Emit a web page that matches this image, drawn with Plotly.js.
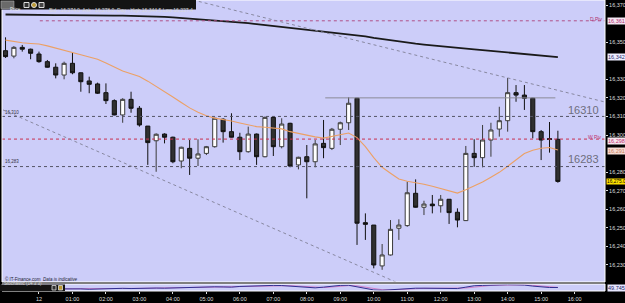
<!DOCTYPE html>
<html><head><meta charset="utf-8">
<script src="https://cdn.plot.ly/plotly-3.0.1.min.js"></script>
<style>html,body{margin:0;padding:0;background:#000;}#chart{width:625px;height:303px;}</style>
</head><body><div id="chart"></div>
<script>
// ---- data (15-minute bars, index 0 = 23:00) ----
const openP  = [16345.4,16342.5,16347.2,16346.2,16343.6,16339.5,16336.5,16332.3,16338.6,16333.5,16329.1,16327.5,16322.8,16318.5,16310.8,16319.2,16314.4,16304.8,16296.9,16300.5,16298.8,16286.0,16292.8,16287.5,16290.1,16293.7,16308.5,16301.8,16298.8,16291.0,16300.5,16288.3,16309.5,16293.7,16306.3,16283.9,16288.3,16285.6,16295.5,16292.8,16303.1,16306.6,16319.8,16252.8,16251.5,16229.5,16235.4,16249.8,16251.2,16268.6,16261.1,16262.8,16261.9,16265.4,16258.4,16253.9,16290.1,16287.8,16297.3,16303.2,16307.7,16322.8,16321.5,16319.8,16301.8,16298.1,16297.7];
const highP  = [16352.6,16347.9,16348.5,16346.5,16344.9,16340.4,16338.6,16339.5,16344.3,16333.7,16331.4,16328.2,16327.8,16319.2,16319.8,16323.3,16315.6,16304.8,16300.9,16300.9,16299.1,16293.7,16297.3,16297.7,16294.1,16309.3,16309.0,16311.7,16301.2,16304.5,16300.8,16309.9,16309.9,16309.0,16306.6,16288.3,16294.6,16297.3,16308.1,16303.8,16307.2,16320.3,16320.0,16257.8,16251.5,16241.3,16254.2,16254.6,16274.9,16276.1,16264.6,16267.7,16267.7,16265.5,16260.5,16294.1,16297.7,16305.4,16306.6,16315.2,16330.7,16326.9,16326.9,16320.0,16302.7,16307.0,16302.3];
const lowP   = [16341.5,16341.3,16344.9,16340.8,16338.9,16336.3,16330.5,16330.0,16332.7,16323.3,16322.5,16322.1,16316.7,16310.6,16306.6,16312.0,16304.5,16283.9,16280.2,16295.5,16284.8,16282.1,16278.5,16283.3,16289.2,16293.2,16295.9,16298.7,16286.5,16290.5,16283.9,16288.0,16288.7,16292.8,16282.6,16281.5,16265.9,16282.6,16287.5,16291.9,16294.6,16302.7,16240.8,16243.5,16228.2,16227.4,16235.1,16243.5,16250.6,16260.9,16256.9,16257.8,16258.2,16252.1,16250.3,16253.7,16282.9,16282.6,16288.3,16299.1,16301.8,16317.9,16313.5,16298.2,16286.5,16290.5,16274.3];
const closeP = [16342.2,16347.2,16346.2,16344.0,16339.5,16336.5,16332.3,16338.6,16333.5,16328.7,16327.3,16322.5,16318.5,16310.8,16319.2,16314.4,16305.4,16295.9,16300.4,16298.8,16285.6,16293.4,16287.5,16289.8,16293.7,16309.0,16301.8,16298.8,16291.0,16300.5,16288.3,16309.5,16293.7,16305.9,16283.3,16288.0,16285.6,16295.2,16293.2,16303.1,16306.6,16317.1,16252.5,16251.9,16230.0,16235.4,16249.2,16251.5,16268.9,16261.1,16262.8,16261.9,16265.4,16258.2,16254.2,16290.1,16287.8,16297.3,16302.7,16307.7,16322.8,16321.5,16319.8,16301.8,16297.3,16297.6,16275.0];
const ma20   = [16351.1,16350.3,16349.7,16349.3,16349.0,16348.0,16346.9,16345.7,16344.5,16343.2,16342.0,16340.8,16338.8,16336.5,16334.5,16333.0,16331.5,16329.0,16326.3,16323.5,16320.5,16317.5,16314.6,16312.3,16310.4,16309.1,16308.4,16307.5,16306.5,16305.5,16304.5,16304.2,16303.9,16303.3,16301.8,16300.8,16299.8,16299.0,16298.3,16299.1,16300.0,16301.1,16298.6,16293.7,16287.8,16282.6,16279.4,16276.3,16275.1,16274.4,16273.5,16272.4,16271.3,16270.0,16268.7,16270.5,16272.4,16274.7,16277.3,16279.9,16283.2,16286.6,16290.0,16291.8,16292.9,16293.3,16291.9];
const ma200  = [16364.9,16364.8,16364.8,16364.7,16364.7,16364.6,16364.6,16364.6,16364.5,16364.5,16364.4,16364.4,16364.3,16364.3,16364.3,16364.2,16364.1,16364.1,16363.9,16363.6,16363.3,16363.0,16362.7,16362.4,16362.0,16361.7,16361.3,16361.0,16360.6,16360.3,16359.7,16359.2,16358.7,16358.1,16357.6,16357.0,16356.6,16356.2,16355.7,16355.3,16354.9,16354.4,16353.8,16353.1,16352.3,16351.6,16350.9,16350.2,16349.7,16349.2,16348.7,16348.2,16347.7,16347.2,16346.8,16346.5,16346.1,16345.7,16345.3,16345.0,16344.6,16344.2,16343.7,16343.2,16342.8,16342.4,16341.9];
const stochK = [50,55,60,50,40,35,30,30,35,30,25,30,35,40,38,35,40,45,42,40,45,50,55,50,55,60,58,55,65,70,75,72,80,78,70,60,50,45,55,70,80,82,60,30,15,10,20,25,35,40,40,38,40,38,35,55,75,80,85,88,90,88,85,70,55,50,49.7];
const stochD = [52,53,55,55,50,42,35,32,32,32,30,28,30,35,38,38,38,40,42,42,42,45,50,52,53,55,58,58,59,63,70,72,76,77,76,70,60,52,50,57,68,77,74,57,35,18,15,18,27,33,38,39,39,39,38,43,55,70,80,84,88,89,88,81,70,58,52];
const hourTickIdx = [4,8,12,16,20,24,28,32,36,40,44,48,52,56,60,64,68];
const hourLabels  = ["12","01:00","02:00","03:00","04:00","05:00","06:00","07:00","08:00","09:00","10:00","11:00","12:00","13:00","14:00","15:00","16:00"];
const priceTicks  = [16370,16350,16330,16320,16310,16300,16280,16270,16260,16250,16240,16230];
const dPivot = 16361.5, wPivot = 16297.8, level1 = 16310, level2 = 16283, resistance = 16320;
const upperTrend = {i: [22.4, 71.6], p: [16372.7, 16317.8]};
const lowerTrend = {i: [-0.3, 46.65], p: [16313.5, 16220.8]};
const resistSpan = [38.2, 65.7];
const dPivStart = 4.1;
const stochLast = 49.745;

// ---- figure ----
const idx = openP.map((_, i) => i);
const W = 625, H = 303, ML = 2, MR = 20, MT = 0, MB = 12;
const PW = W - ML - MR, PH = H - MT - MB;
const px = x => (x - ML) / PW;          // pixel -> paper x
const py = y => 1 - (y - MT) / PH;      // pixel -> paper y
const fmt = v => v.toLocaleString('en-US');
const FONT = 'Liberation Sans, Arial, sans-serif';

const traces = [
  {type: 'candlestick', x: idx, open: openP, high: highP, low: lowP, close: closeP,
   xaxis: 'x', yaxis: 'y', whiskerwidth: 0,
   increasing: {fillcolor: '#ffffff', line: {color: '#3a3a3a', width: 1}},
   decreasing: {fillcolor: '#303030', line: {color: '#111111', width: 1}},
   hoverinfo: 'skip', showlegend: false},
  {type: 'scatter', mode: 'lines', x: idx, y: ma20, xaxis: 'x', yaxis: 'y',
   line: {color: '#eca064', width: 1.1}, hoverinfo: 'skip', showlegend: false},
  {type: 'scatter', mode: 'lines', x: idx, y: ma200, xaxis: 'x', yaxis: 'y',
   line: {color: '#1a1a1a', width: 1.8}, hoverinfo: 'skip', showlegend: false},
  {type: 'scatter', mode: 'lines', x: idx, y: stochD, xaxis: 'x', yaxis: 'y2',
   line: {color: '#d080c8', width: 1}, hoverinfo: 'skip', showlegend: false},
  {type: 'scatter', mode: 'lines', x: idx, y: stochK, xaxis: 'x', yaxis: 'y2',
   line: {color: '#303090', width: 1}, hoverinfo: 'skip', showlegend: false}
];

const shapes = [
  {type: 'line', xref: 'paper', yref: 'y', x0: 0, x1: 1, y0: level1, y1: level1, line: {color: '#555566', width: 1, dash: 'dot'}},
  {type: 'line', xref: 'paper', yref: 'y', x0: 0, x1: 1, y0: level2, y1: level2, line: {color: '#555566', width: 1, dash: 'dot'}},
  {type: 'line', xref: 'paper', yref: 'y', x0: 0, x1: 1, y0: wPivot, y1: wPivot, line: {color: '#c8304f', width: 1, dash: 'dot'}},
  {type: 'line', xref: 'x', yref: 'y', x0: dPivStart, x1: 71.6, y0: dPivot, y1: dPivot, line: {color: '#b05088', width: 1, dash: 'dot'}},
  {type: 'line', xref: 'x', yref: 'y', x0: resistSpan[0], x1: resistSpan[1], y0: resistance, y1: resistance, line: {color: '#8a8a96', width: 1}},
  {type: 'line', xref: 'x', yref: 'y', x0: upperTrend.i[0], x1: upperTrend.i[1], y0: upperTrend.p[0], y1: upperTrend.p[1], line: {color: '#8888a0', width: 1, dash: 'dot'}},
  {type: 'line', xref: 'x', yref: 'y', x0: lowerTrend.i[0], x1: lowerTrend.i[1], y0: lowerTrend.p[0], y1: lowerTrend.p[1], line: {color: '#8888a0', width: 1, dash: 'dot'}},
  // main plot border
  {type: 'rect', xref: 'paper', yref: 'paper', x0: 0, x1: 1, y0: py(282), y1: 1, line: {color: '#ffffff', width: 1}, fillcolor: 'rgba(0,0,0,0)'},
  // stochastic border
  {type: 'rect', xref: 'paper', yref: 'paper', x0: 0, x1: 1, y0: 0, y1: py(284), line: {color: '#ffffff', width: 1}, fillcolor: 'rgba(0,0,0,0)'},
  // top info bar
  {type: 'rect', xref: 'paper', yref: 'paper', x0: px(0), x1: px(196), y0: py(9.5), y1: py(0), line: {width: 0}, fillcolor: '#141414'},
  {type: 'rect', xref: 'paper', yref: 'paper', x0: px(1), x1: px(14), y0: py(8.5), y1: py(1), line: {color: '#bbbbbb', width: 0.5}, fillcolor: '#6a6a6a'},
  {type: 'rect', xref: 'paper', yref: 'paper', x0: px(24), x1: px(29), y0: py(7.5), y1: py(2.5), line: {color: '#dddddd', width: 1}, fillcolor: '#333'},
  {type: 'circle', xref: 'paper', yref: 'paper', x0: px(31.5), x1: px(36.5), y0: py(7.5), y1: py(2.5), line: {color: '#dddddd', width: 1}, fillcolor: '#bb9933'},
  {type: 'rect', xref: 'paper', yref: 'paper', x0: px(39), x1: px(44), y0: py(7.5), y1: py(2.5), line: {color: '#dddddd', width: 1}, fillcolor: '#444'},
  // stochastic label box
  {type: 'rect', xref: 'paper', yref: 'paper', x0: px(0), x1: px(65), y0: py(291), y1: py(284.5), line: {width: 0}, fillcolor: '#141414'},
  {type: 'rect', xref: 'paper', yref: 'paper', x0: px(52), x1: px(56), y0: py(290), y1: py(285.5), line: {color: '#dddddd', width: 0.8}, fillcolor: '#333'},
  {type: 'rect', xref: 'paper', yref: 'paper', x0: px(58.5), x1: px(62.5), y0: py(290), y1: py(285.5), line: {color: '#dddddd', width: 0.8}, fillcolor: '#bb9933'}
];

const ann = (text, x, y, opts) => Object.assign({text, x, y, showarrow: false,
  xref: 'paper', yref: 'y', font: {family: FONT, size: 5.5, color: '#dddddd'}}, opts || {});
const rightX = px(606.5);
const annotations = [
  ann(fmt(16361), rightX, dPivot, {xanchor: 'left', bgcolor: '#f4e6f2', borderpad: 0, font: {family: FONT, size: 5.5, color: '#b0306f'}}),
  ann(fmt(16342), rightX, ma200[ma200.length - 1], {xanchor: 'left', bgcolor: '#eeeeff', borderpad: 0, font: {family: FONT, size: 5.5, color: '#303070'}}),
  ann(fmt(16298), rightX, wPivot - 0.8, {xanchor: 'left', bgcolor: '#f6e6ee', borderpad: 0, font: {family: FONT, size: 5.5, color: '#c03070'}}),
  ann(fmt(16291), rightX, ma20[ma20.length - 1] - 0.5, {xanchor: 'left', bgcolor: '#f6dcd4', borderpad: 0, font: {family: FONT, size: 5.5, color: '#c88060'}}),
  ann('16,275.0', px(606), closeP[closeP.length - 1], {xanchor: 'left', bgcolor: '#ffe000', borderpad: 0, font: {family: FONT, size: 4.8, color: '#000'}}),
  ann(stochLast.toString(), rightX, stochLast, {yref: 'y2', xanchor: 'left', bgcolor: '#e6e6ff', borderpad: 0, font: {family: FONT, size: 5.5, color: '#202060'}}),
  ann('D Piv', px(604), dPivot + 1.2, {xanchor: 'right', font: {family: FONT, size: 5, color: '#b0306f'}}),
  ann('W Piv', px(604), wPivot + 1.2, {xanchor: 'right', font: {family: FONT, size: 5, color: '#c03070'}}),
  ann(String(level1), 69.1, level1 + 3.5, {xref: 'x', font: {family: FONT, size: 11, color: '#6e6e7e'}}),
  ann(String(level2), 69.1, level2 + 4.1, {xref: 'x', font: {family: FONT, size: 11, color: '#6e6e7e'}}),
  ann(fmt(level1), px(3), level1 + 2.2, {xanchor: 'left', font: {family: FONT, size: 4.5, color: '#333344'}}),
  ann(fmt(level2), px(3), level2 + 2.6, {xanchor: 'left', font: {family: FONT, size: 4.5, color: '#333344'}}),
  ann('© IT-Finance.com  <i>Data is indicative</i>', px(3), 16222.2, {xanchor: 'left', font: {family: FONT, size: 4.5, color: '#222233'}}),
  ann('Price', px(7.5), 0, {yref: 'paper', y: py(4.8), font: {family: FONT, size: 4.5, color: '#e8e8e8'}}),
  ann('Bid : 16,274.0  Ask : 16,278.0  Day : High 16,344.5 Low 16,227.4', px(47), 0, {yref: 'paper', y: py(4.8), xanchor: 'left', font: {family: FONT, size: 5, color: '#d8d8d8'}}),
  ann('Stochastic (14 3 3)', px(1.5), 0, {yref: 'paper', y: py(287.8), xanchor: 'left', font: {family: FONT, size: 4.5, color: '#d8d8d8'}})
];

const layout = {
  width: W, height: H,
  margin: {l: ML, r: MR, t: MT, b: MB, pad: 0},
  paper_bgcolor: '#000000', plot_bgcolor: '#cccdf9',
  showlegend: false, dragmode: false,
  xaxis: {anchor: 'y2', range: [-0.42, 71.63], rangeslider: {visible: false},
    tickvals: hourTickIdx, ticktext: hourLabels, tickfont: {family: FONT, size: 5.5, color: '#dddddd'},
    ticks: 'outside', ticklen: 2, tickcolor: '#dddddd', showgrid: false, zeroline: false, showline: false},
  yaxis: {domain: [py(282), 1], range: [16220.84, 16372.7], side: 'right',
    tickvals: priceTicks, ticktext: priceTicks.map(fmt), tickfont: {family: FONT, size: 5.5, color: '#dddddd'},
    ticks: 'outside', ticklen: 2, tickcolor: '#dddddd', showgrid: false, zeroline: false, showline: false},
  yaxis2: {domain: [0, py(284)], range: [0, 100], side: 'right', showticklabels: false,
    ticks: '', showgrid: false, zeroline: false, showline: false},
  shapes, annotations
};

Plotly.newPlot('chart', traces, layout, {staticPlot: true, displayModeBar: false});
</script></body></html>
